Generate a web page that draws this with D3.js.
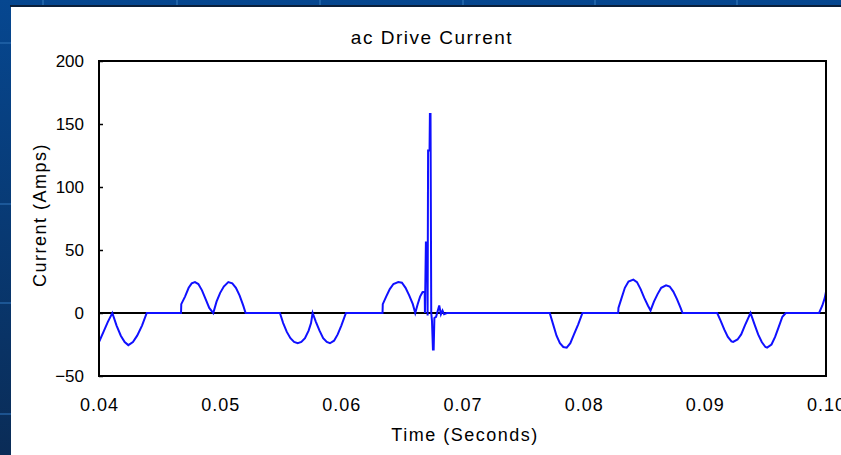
<!DOCTYPE html>
<html>
<head>
<meta charset="utf-8">
<script src="https://cdn.jsdelivr.net/npm/d3@7"></script>
<style>
  body { margin: 0; overflow: hidden; }
  text { font-family: "Liberation Sans", Arial, sans-serif; fill: #000; }
</style>
</head>
<body>
<svg id="chart"></svg>
<script>
// ac drive current
var timeS = [
  0.0400, 0.04037, 0.04073, 0.0411,
  0.04145, 0.0418, 0.04212, 0.04242, 0.0428, 0.04315, 0.04355, 0.04394,
  0.04677, 0.04679, 0.0471, 0.0474, 0.04765, 0.04792, 0.0482, 0.0485, 0.0488, 0.0491, 0.04943,
  0.0497, 0.0500, 0.0503, 0.05067, 0.0510, 0.0513, 0.0516, 0.0519, 0.0521,
  0.05493, 0.0552, 0.0555, 0.0558, 0.0561, 0.0564, 0.0567, 0.0570, 0.0573, 0.0575, 0.05763,
  0.0579, 0.0582, 0.0585, 0.0588, 0.05906, 0.0594, 0.0597, 0.0600, 0.06038,
  0.0634, 0.06342, 0.0637, 0.0640, 0.0643, 0.0647, 0.0650, 0.0653, 0.0656, 0.0659, 0.0661,
  0.0663, 0.0665, 0.0667, 0.06688, 0.0669,
  0.06698, 0.06708, 0.06712, 0.06716, 0.06728, 0.06731, 0.06736, 0.06742, 0.06748, 0.06756, 0.06762,
  0.06768, 0.06782, 0.06808, 0.06822, 0.06835, 0.06848, 0.0687,
  0.0772, 0.07748, 0.07776, 0.07804, 0.07832, 0.0786, 0.0789, 0.0792, 0.07955, 0.0799,
  0.08285, 0.08287, 0.0831, 0.0834, 0.0837, 0.0841, 0.0844, 0.0847, 0.0850, 0.0853, 0.08552,
  0.0858, 0.0861, 0.0864, 0.0868, 0.0871, 0.0874, 0.0877, 0.0880, 0.08816,
  0.09102, 0.0913, 0.0916, 0.0919, 0.0922, 0.09234, 0.0927, 0.0930, 0.0933, 0.09377,
  0.0941, 0.0944, 0.0947, 0.0950, 0.09514, 0.0955, 0.0958, 0.0961, 0.0964, 0.09668,
  0.09943, 0.0997, 0.0999, 0.1000
];
var currentA = [
  -23, -15, -7, 0,
  -10, -18, -23, -25.5, -23, -18, -10, 0,
  0, 7, 13, 20, 23.5, 24.5, 23, 18, 11, 4, 0,
  9, 16, 21, 24.5, 23.5, 20, 14, 6, 0,
  0, -8, -15, -20, -23, -24, -23, -20, -14, -8, 0,
  -7, -14, -20, -23, -24, -22, -17, -10, 0,
  0, 7, 13, 19, 23, 24.5, 24, 20, 14, 7, 0,
  7, 13, 16.5, 17, 0,
  56, 56, -2, 129, 129, 158, 158, 0, -6, -29, -29,
  -4, -3, 6, -1, 2, -1, 0,
  0, -9, -18, -24, -27, -27.5, -24, -17, -9, 0,
  0, 4, 11, 20, 25, 26.5, 24.5, 19, 12, 6, 2,
  9, 15, 20, 22, 21, 17, 11, 4, 0,
  0, -6, -13, -19, -22.5, -23, -21, -17, -10, 0,
  -9, -17, -23, -27, -27.5, -25, -19, -11, -3, 0,
  0, 6, 12, 17
];
var xTicks = [0.04, 0.05, 0.06, 0.07, 0.08, 0.09, 0.10];
var yTicks = [-50, 0, 50, 100, 150, 200];

var W = 841, H = 455;
var margin = { top: 61, right: 15, bottom: 79, left: 99 };
var width = W - margin.left - margin.right;
var height = H - margin.top - margin.bottom;

var svg = d3.select("#chart").attr("width", W).attr("height", H);

// slide background
var defs = svg.append("defs");
var grad = defs.append("linearGradient").attr("id", "bg")
  .attr("x1", 0).attr("y1", 0).attr("x2", 0).attr("y2", 1);
grad.append("stop").attr("offset", "0%").attr("stop-color", "#064790");
grad.append("stop").attr("offset", "100%").attr("stop-color", "#0a2c57");
svg.append("rect").attr("width", W).attr("height", H).attr("fill", "url(#bg)");
// faint tile seams in the top strip
[42, 176, 319, 462, 594, 736].forEach(function(sx) {
  svg.append("rect").attr("x", sx).attr("y", 0).attr("width", 2).attr("height", 5)
    .attr("fill", "#2a6db0").attr("opacity", 0.7);
});
[42, 203, 302, 413].forEach(function(sy) {
  svg.append("rect").attr("x", 0).attr("y", sy).attr("width", 11).attr("height", 2)
    .attr("fill", "#2a6db0").attr("opacity", 0.6);
});
svg.append("rect").attr("x", 10).attr("y", 5).attr("width", W).attr("height", 2).attr("fill", "#0b1f3a");
svg.append("rect").attr("x", 11).attr("y", 7).attr("width", W).attr("height", H).attr("fill", "#fff");

defs.append("clipPath").attr("id", "plot")
  .append("rect").attr("width", width).attr("height", height);

var g = svg.append("g")
  .attr("transform", "translate(" + margin.left + "," + margin.top + ")");

var x = d3.scaleLinear().domain([0.04, 0.10]).range([0, width]);
var y = d3.scaleLinear().domain([-50, 200]).range([height, 0]);

g.append("g")
  .attr("transform", "translate(0," + height + ")")
  .call(d3.axisBottom(x).tickValues(xTicks).tickSize(0).tickPadding(22)
    .tickFormat(d3.format(".2f")))
  .call(function(a) { a.select(".domain").remove(); })
  .selectAll("text").style("font-size", "18px").style("letter-spacing", "1px");

g.append("g")
  .call(d3.axisLeft(y).tickValues(yTicks).tickSize(-4).tickPadding(15))
  .call(function(a) { a.select(".domain").remove(); })
  .call(function(a) { a.selectAll("line").attr("stroke", "#000").attr("stroke-width", 1.5); })
  .selectAll("text").style("font-size", "17px");

// zero line
g.append("line")
  .attr("x1", 0).attr("x2", width)
  .attr("y1", y(0)).attr("y2", y(0))
  .attr("stroke", "#000").attr("stroke-width", 2);

var line = d3.line()
  .x(function(d, i) { return x(timeS[i]); })
  .y(function(d) { return y(d); });

g.append("path")
  .datum(currentA)
  .attr("clip-path", "url(#plot)")
  .attr("fill", "none")
  .attr("stroke", "#1010ff")
  .attr("stroke-width", 2)
  .attr("d", line);

g.append("rect")
  .attr("width", width).attr("height", height)
  .attr("fill", "none").attr("stroke", "#000").attr("stroke-width", 2);

svg.append("text")
  .attr("x", 432).attr("y", 44)
  .attr("text-anchor", "middle")
  .style("font-size", "19px").style("letter-spacing", "1.5px")
  .text("ac Drive Current");

svg.append("text")
  .attr("x", 465).attr("y", 441)
  .attr("text-anchor", "middle")
  .style("font-size", "18px").style("letter-spacing", "1.5px")
  .text("Time (Seconds)");

svg.append("text")
  .attr("transform", "translate(46,215) rotate(-90)")
  .attr("text-anchor", "middle")
  .style("font-size", "18px").style("letter-spacing", "1.5px")
  .text("Current (Amps)");
</script>
</body>
</html>
